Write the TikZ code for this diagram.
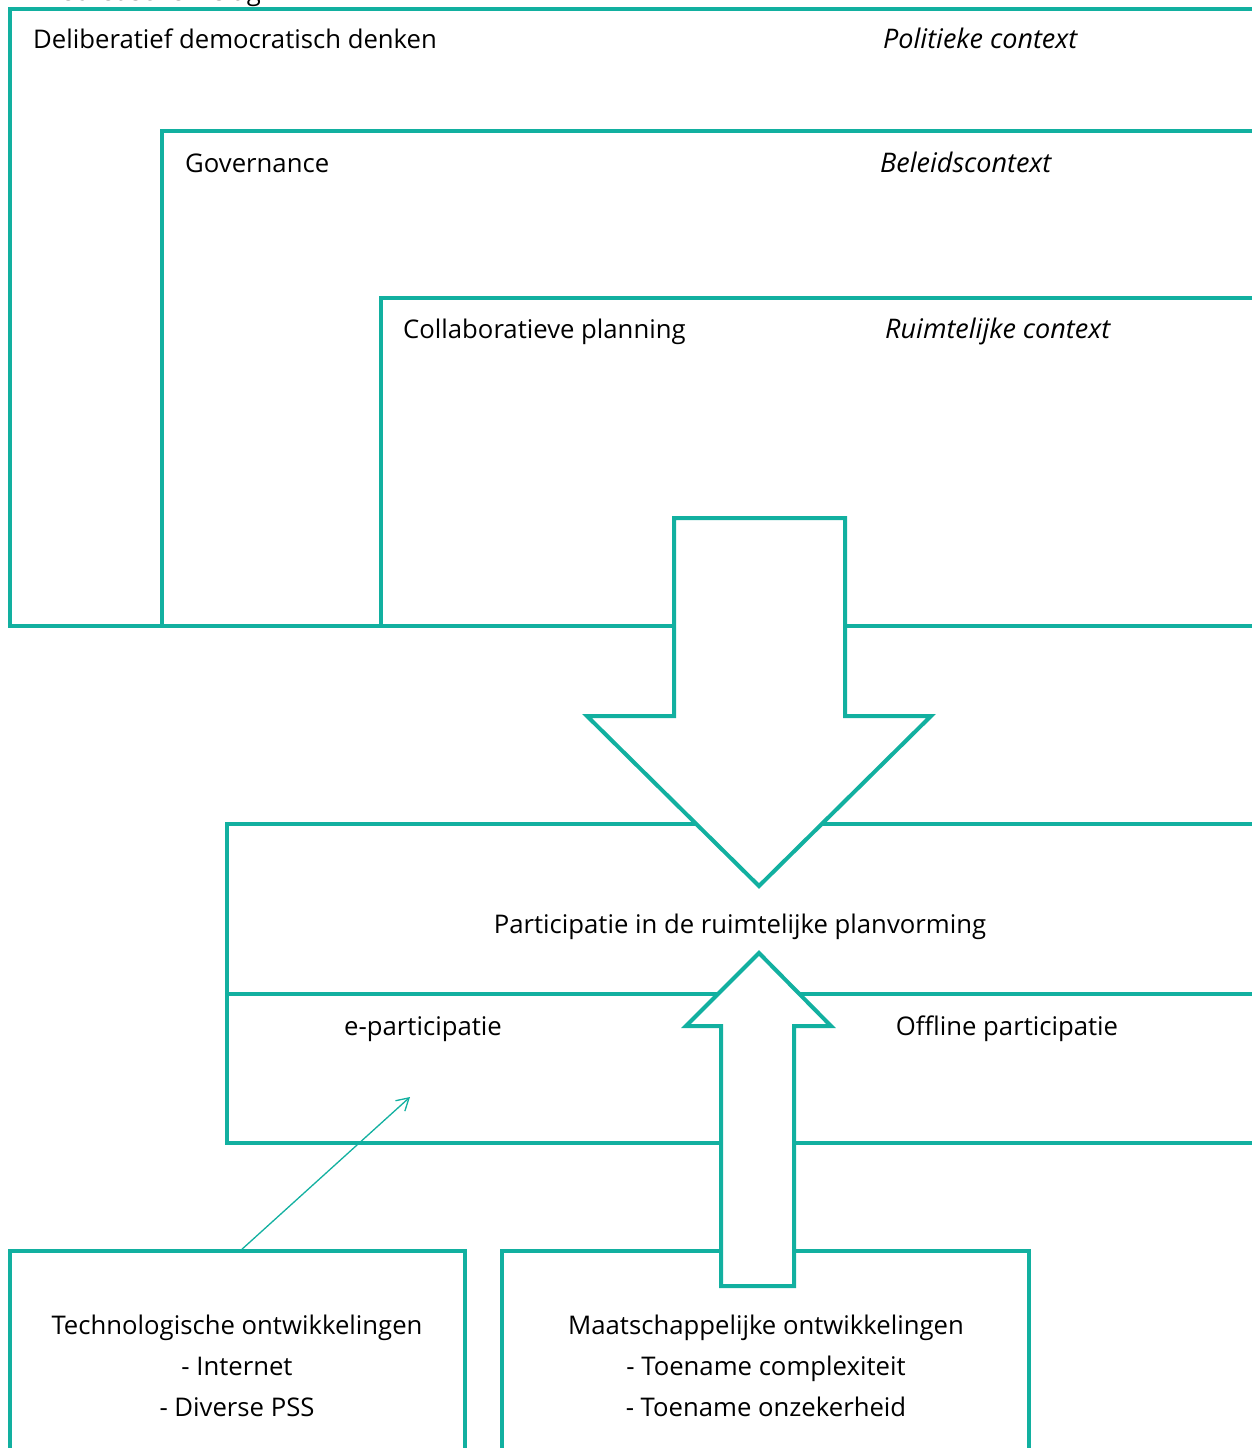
\documentclass[tikz,border=0pt]{standalone}
\usepackage{fontspec}
\setmainfont{Open Sans}
\usetikzlibrary{arrows.meta}
\definecolor{teal}{RGB}{18,176,160}
\begin{document}
\begin{tikzpicture}[x=1pt,y=-1pt,
  frame/.style={draw=teal,line width=4pt,fill=white},
  bigarrow/.style={draw=teal,line width=4pt,fill=white,line join=miter},
  txt/.style={font=\fontsize{25.7}{30}\selectfont,inner sep=0pt},
  ctx/.style={txt,font=\fontsize{27}{32}\selectfont\itshape},
  linkarrow/.style={draw=teal,line width=1.3pt,-{Straight Barb[length=12pt,width=14pt,line width=1.3pt]}}]
\useasboundingbox (0,0) rectangle (1252,1448);
\clip (0,0) rectangle (1252,1448);

% nested context frames
\draw[frame] (10,9) rectangle (1254,626);
\draw[frame] (162,131) rectangle (1254,626);
\draw[frame] (381,298) rectangle (1254,626);

\node[txt,anchor=base west] (inslag) at (30,1) {Theoretische inslag};
\node[txt,anchor=base west] (delib) at (33,48) {Deliberatief democratisch denken};
\node[ctx,anchor=base west] (pol) at (883,48) {Politieke context};
\node[txt,anchor=base west] (gov) at (185,172) {Governance};
\node[ctx,anchor=base west] (bel) at (880,172) {Beleidscontext};
\node[txt,anchor=base west] (coll) at (403,338) {Collaboratieve planning};
\node[ctx,anchor=base west] (ruim) at (885,338) {Ruimtelijke context};

% participation frame
\draw[frame] (227,824) rectangle (1254,1143);
\draw[teal,line width=4pt] (227,994) -- (1254,994);
\node[txt,anchor=base] (part) at (740,933) {Participatie in de ruimtelijke planvorming};
\node[txt,anchor=base] (epart) at (423,1035) {e-participatie};
\node[txt,anchor=base] (offl) at (1007,1035) {Offline participatie};

% development frames
\draw[frame] (10,1251) rectangle (465,1460);
\draw[frame] (502,1251) rectangle (1029,1460);
\node[txt,anchor=base] (tech) at (237,1334) {Technologische ontwikkelingen};
\node[txt,anchor=base] (tech1) at (237,1375) {- Internet};
\node[txt,anchor=base] (tech2) at (237,1416) {- Diverse PSS};
\node[txt,anchor=base] (maat) at (766,1334) {Maatschappelijke ontwikkelingen};
\node[txt,anchor=base] (maat1) at (766,1375) {- Toename complexiteit};
\node[txt,anchor=base] (maat2) at (766,1416) {- Toename onzekerheid};

% block arrow from the context frames down to participation
\draw[bigarrow] (674,518) -- (845,518) -- (845,716) -- (931,716) -- (759,886)
  -- (587,716) -- (674,716) -- cycle;

% block arrow from societal developments up to participation
\draw[bigarrow] (721,1286) -- (794,1286) -- (794,1026) -- (831,1026) -- (759,953)
  -- (686,1026) -- (721,1026) -- cycle;

% technology feeds e-participation
\coordinate (techtop) at (240,1251);
\coordinate (eend) at (410,1097);
\draw[linkarrow] (techtop) -- (eend);
\end{tikzpicture}
\end{document}
